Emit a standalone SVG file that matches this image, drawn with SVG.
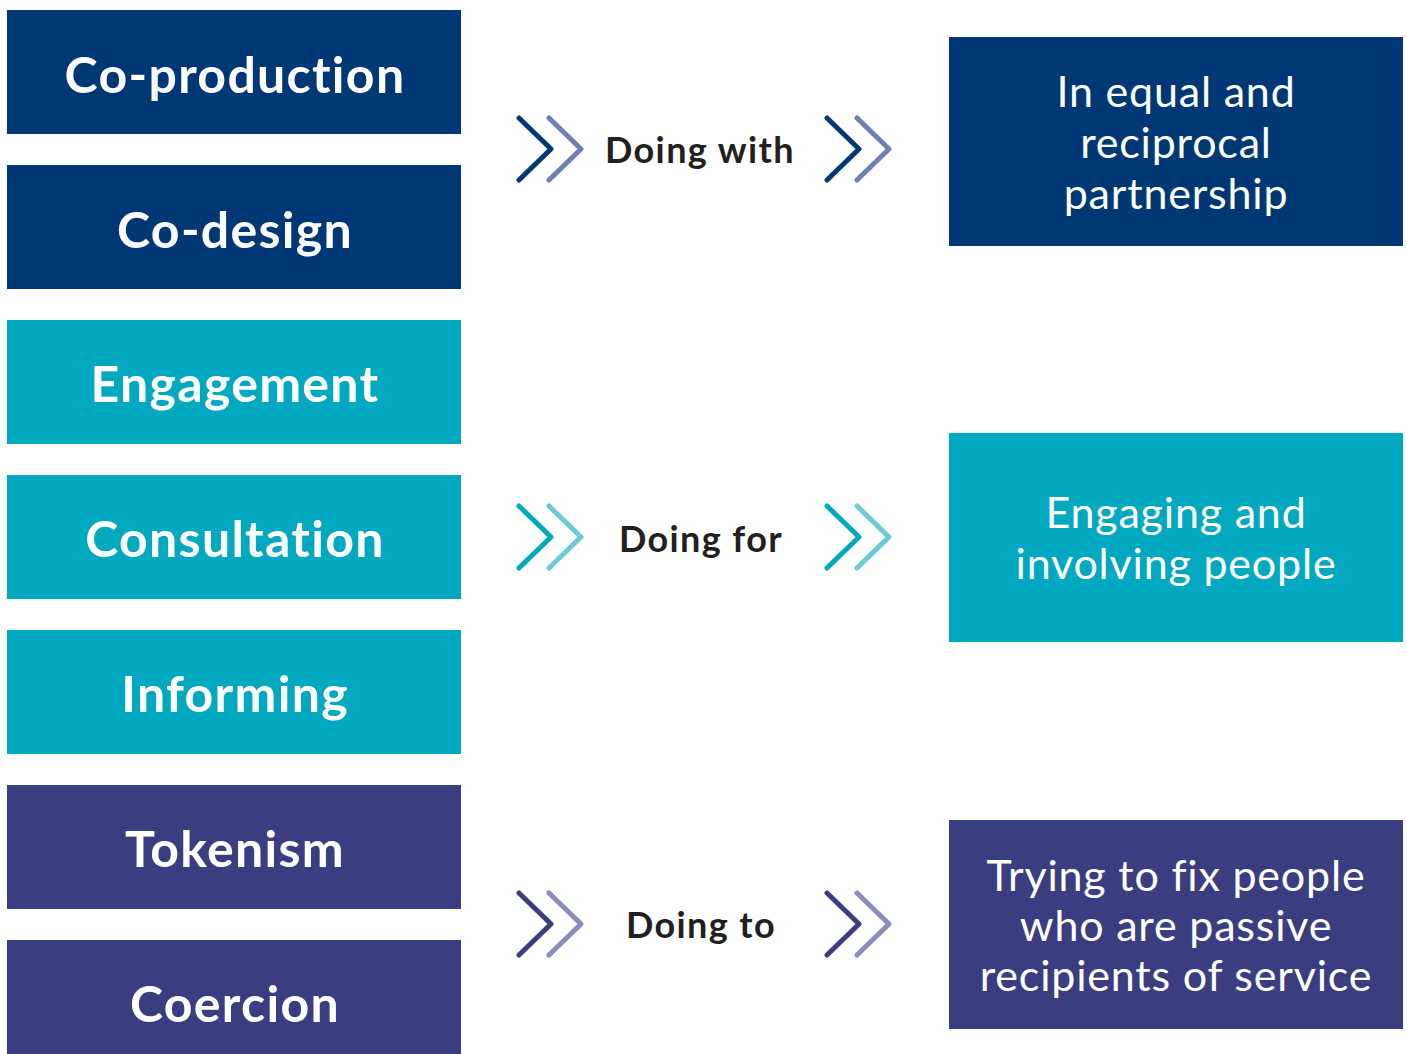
<svg xmlns="http://www.w3.org/2000/svg" width="1407" height="1054" viewBox="0 0 1407 1054">
<style>
.navy{fill:#003876}.teal{fill:#00A9BF}.ind{fill:#3A3E80}
.lbl{font-family:Lato,"Noto Sans","Liberation Sans",sans-serif;font-weight:700;font-size:50px;letter-spacing:1.3px;fill:#fff;text-anchor:middle;font-variant-ligatures:none}
.rt{font-family:Lato,"Noto Sans","Liberation Sans",sans-serif;font-weight:400;font-size:43px;letter-spacing:0.8px;fill:#fff;text-anchor:middle;font-variant-ligatures:none}
.mid{font-family:Lato,"Noto Sans","Liberation Sans",sans-serif;font-weight:700;font-size:36px;letter-spacing:1.4px;fill:#231F20;text-anchor:middle;font-variant-ligatures:none}
.ch{fill:none;stroke-width:5;stroke-linecap:round;stroke-linejoin:round}
</style>
<rect width="1407" height="1054" fill="#fff"/>
<g id="co-production"><rect class="navy" x="7" y="10" width="454" height="124"/><text class="lbl" x="235" y="93">Co-production</text></g>
<g id="co-design"><rect class="navy" x="7" y="165" width="454" height="124"/><text class="lbl" x="235" y="248">Co-design</text></g>
<g id="engagement"><rect class="teal" x="7" y="320" width="454" height="124"/><text class="lbl" x="235" y="402">Engagement</text></g>
<g id="consultation"><rect class="teal" x="7" y="475" width="454" height="124"/><text class="lbl" x="235" y="557">Consultation</text></g>
<g id="informing"><rect class="teal" x="7" y="630" width="454" height="124"/><text class="lbl" x="235" y="712">Informing</text></g>
<g id="tokenism"><rect class="ind" x="7" y="785" width="454" height="124"/><text class="lbl" x="235" y="867">Tokenism</text></g>
<g id="coercion"><rect class="ind" x="7" y="940" width="454" height="124"/><text class="lbl" x="235" y="1022">Coercion</text></g>

<g id="partnership"><rect class="navy" x="949" y="37" width="454" height="209"/>
<text class="rt" x="1176" y="107">In equal and</text><text class="rt" x="1176" y="158">reciprocal</text><text class="rt" x="1176" y="209">partnership</text></g>
<g id="engaging"><rect class="teal" x="949" y="433" width="454" height="209"/>
<text class="rt" x="1176" y="528">Engaging and</text><text class="rt" x="1176" y="579">involving people</text></g>
<g id="fixing"><rect class="ind" x="949" y="820" width="454" height="209"/>
<text class="rt" x="1176" y="891">Trying to fix people</text><text class="rt" x="1176" y="941">who are passive</text><text class="rt" x="1176" y="991">recipients of service</text></g>

<g id="connectors">
<g id="doing-with">
<path class="ch" stroke="#003876" d="M519 118L551 149L519 180M827 118L859 149L827 180"/>
<path class="ch" stroke="#6E80B5" d="M549 118L581 149L549 180M857 118L889 149L857 180"/>
<text class="mid" x="700" y="163">Doing with</text>
</g>
<g id="doing-for">
<path class="ch" stroke="#00A9BF" d="M519 506L551 537L519 568M827 506L859 537L827 568"/>
<path class="ch" stroke="#6CCAD8" d="M549 506L581 537L549 568M857 506L889 537L857 568"/>
<text class="mid" x="701" y="552">Doing for</text>
</g>
<g id="doing-to">
<path class="ch" stroke="#3A3E80" d="M519 893L551 924L519 955M827 893L859 924L827 955"/>
<path class="ch" stroke="#8A8CC0" d="M549 893L581 924L549 955M857 893L889 924L857 955"/>
<text class="mid" x="701" y="938">Doing to</text>
</g>
</g>
</svg>
